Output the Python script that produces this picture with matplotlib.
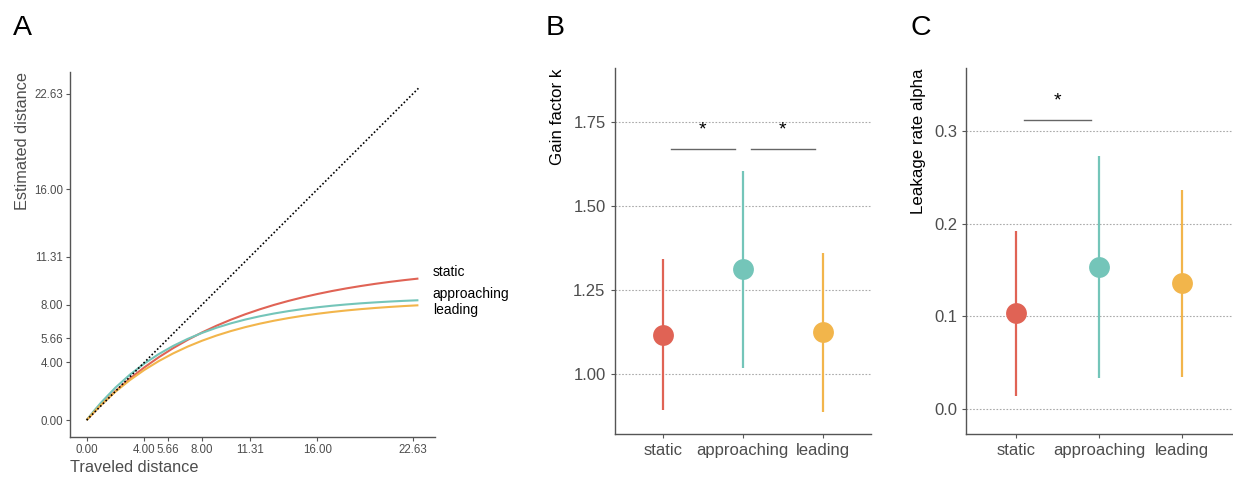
import matplotlib
matplotlib.use("Agg")
import matplotlib.pyplot as plt

plt.rcParams['font.family'] = ['Liberation Sans', 'DejaVu Sans']

# ---------------- data ----------------
conditions = ["static", "approaching", "leading"]
colors = ["#E06355", "#74C5B9", "#F2B54B"]

# Panel A: model curves (estimated vs traveled distance)
travel = [0, 0.5, 1, 2, 3, 4, 5, 6, 7, 8, 9, 10, 11, 12, 13, 14, 15, 16, 17, 18,
          19, 20, 21, 22, 23]
est_static = [0, 0.543, 1.060, 2.015, 2.877, 3.656, 4.357, 4.990, 5.561, 6.076,
              6.542, 6.961, 7.338, 7.679, 7.988, 8.265, 8.516, 8.742, 8.946, 9.130,
              9.295, 9.445, 9.580, 9.702, 9.812]
est_approaching = [0, 0.630, 1.215, 2.257, 3.152, 3.919, 4.578, 5.143, 5.628, 6.044,
                   6.402, 6.708, 6.971, 7.197, 7.391, 7.557, 7.699, 7.821, 7.927, 8.017,
                   8.095, 8.160, 8.218, 8.267, 8.309]
est_leading = [0, 0.544, 1.052, 1.971, 2.775, 3.477, 4.090, 4.626, 5.094, 5.503,
               5.861, 6.173, 6.446, 6.684, 6.892, 7.074, 7.233, 7.372, 7.493, 7.600,
               7.692, 7.773, 7.844, 7.906, 7.960]
identity = [0, 23]
dist_ticks = [0.00, 4.00, 5.66, 8.00, 11.31, 16.00, 22.63]
label_y = [10.27, 8.77, 7.62]

# Panel B: gain factor k
k_mean = [1.116, 1.311, 1.124]
k_low = [0.893, 1.019, 0.887]
k_high = [1.341, 1.603, 1.361]
k_ticks = [1.00, 1.25, 1.50, 1.75]
k_sig = [(1.1, 1.9), (2.1, 2.9)]
k_sig_y = 1.670

# Panel C: leakage rate alpha
a_mean = [0.103, 0.153, 0.1355]
a_low = [0.0137, 0.0335, 0.0346]
a_high = [0.1923, 0.273, 0.2363]
a_ticks = [0.0, 0.1, 0.2, 0.3]
a_sig = [(1.1, 1.9)]
a_sig_y = 0.3116

TXT_GRAY = "#4D4D4D"
SPINE = "#555555"

fig = plt.figure(figsize=(12.33, 4.79), dpi=100)

# ---------------- Panel A ----------------
axA = fig.add_axes([0.0568, 0.0883, 0.296, 0.762])
axA.plot(identity, identity, color="black", ls=(0, (1, 1.3)), lw=1.2, zorder=5)
for est, c in zip([est_static, est_approaching, est_leading], colors):
    axA.plot(travel, est, color=c, lw=1.5, solid_capstyle="butt", solid_joinstyle="round")
for name, y in zip(conditions, label_y):
    axA.text(24.0, y, name, ha="left", va="center", fontsize=10, color="black",
             clip_on=False)
axA.set_xlim(-1.15, 24.15)
axA.set_ylim(-1.15, 24.15)
axA.set_xticks(dist_ticks)
axA.set_xticklabels([f"{v:.2f}" for v in dist_ticks])
axA.set_yticks(dist_ticks)
axA.set_yticklabels([f"{v:.2f}" for v in dist_ticks])
axA.tick_params(labelsize=8.3, colors=SPINE, labelcolor=TXT_GRAY, length=3, width=0.8, pad=2)
axA.set_xlabel("Traveled distance", fontsize=11.7, color=TXT_GRAY, labelpad=3, loc="left")
axA.set_ylabel("Estimated distance", fontsize=11.7, color=TXT_GRAY, labelpad=3, loc="top")
for s in ["top", "right"]:
    axA.spines[s].set_visible(False)
for s in ["left", "bottom"]:
    axA.spines[s].set_color(SPINE)
    axA.spines[s].set_linewidth(1.0)


def dot_panel(ax, means, lows, highs, ticks, tickfmt, ylim, ylabel, sigs, sig_y, star_off):
    xs = [1, 2, 3]
    for yv in ticks:
        ax.axhline(yv, color="#AAAAAA", lw=0.8, ls=(0, (1.5, 1.5)), zorder=0)
    for x, m, lo, hi, c in zip(xs, means, lows, highs, colors):
        ax.plot([x, x], [lo, hi], color=c, lw=1.6, solid_capstyle="butt", zorder=2)
        ax.plot([x], [m], "o", color=c, markersize=15, markeredgewidth=0, zorder=3)
    for (x0, x1) in sigs:
        ax.plot([x0, x1], [sig_y, sig_y], color="#666666", lw=1.0)
        ax.text((x0 + x1) / 2, sig_y + star_off, "*", ha="center", va="center",
                fontsize=14, color="black")
    ax.set_xlim(0.4, 3.6)
    ax.set_ylim(*ylim)
    ax.set_xticks(xs)
    ax.set_xticklabels(conditions)
    ax.set_yticks(ticks)
    ax.set_yticklabels([tickfmt.format(v) for v in ticks])
    ax.tick_params(labelsize=12, colors=SPINE, labelcolor=TXT_GRAY, length=3, width=0.8)
    ax.set_ylabel(ylabel, fontsize=12.2, color="black", loc="top", labelpad=6)
    for s in ["top", "right"]:
        ax.spines[s].set_visible(False)
    for s in ["left", "bottom"]:
        ax.spines[s].set_color(SPINE)
        ax.spines[s].set_linewidth(1.0)


axB = fig.add_axes([0.4985, 0.0933, 0.2076, 0.764])
dot_panel(axB, k_mean, k_low, k_high, k_ticks, "{:.2f}", (0.821, 1.909),
          "Gain factor k", k_sig, k_sig_y, 0.055)

axC = fig.add_axes([0.7837, 0.0933, 0.2152, 0.764])
dot_panel(axC, a_mean, a_low, a_high, a_ticks, "{:.1f}", (-0.0277, 0.3677),
          "Leakage rate alpha", a_sig, a_sig_y, 0.0205)

# panel letters
for letter, x in zip(["A", "B", "C"], [13, 546, 910]):
    fig.text(x / 1233, 1 - 35 / 479, letter, fontsize=20.5, color="black",
             ha="left", va="baseline")

fig.savefig("out.png", dpi=100)
